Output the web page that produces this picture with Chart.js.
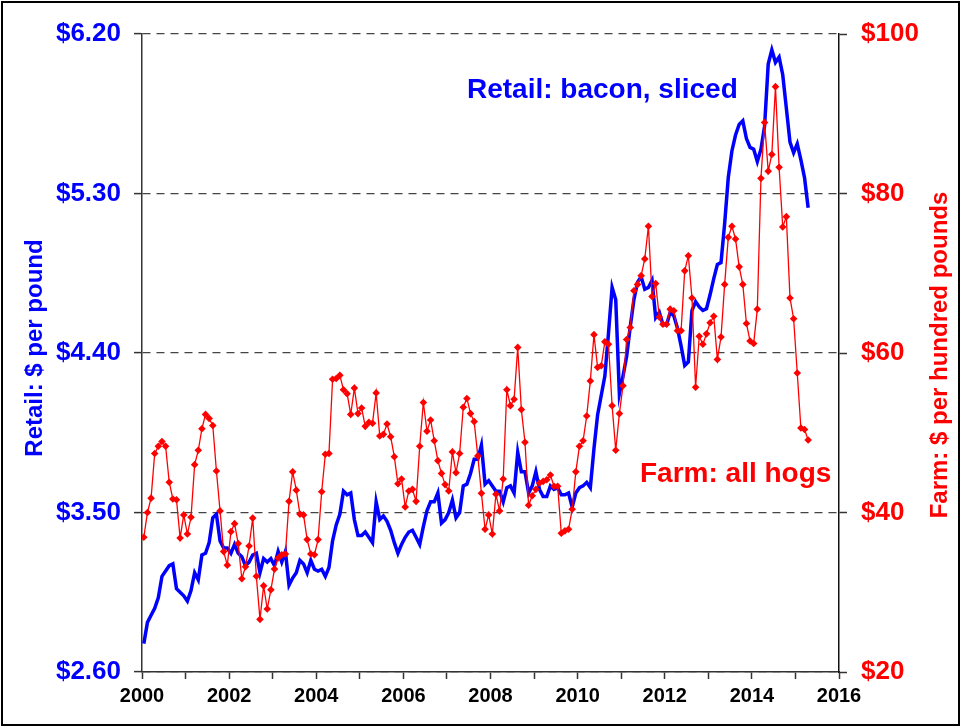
<!DOCTYPE html>
<html>
<head>
<meta charset="utf-8">
<script src="https://cdn.jsdelivr.net/npm/chart.js@4.4.1/dist/chart.umd.min.js"></script>
<style>
  html, body { margin: 0; padding: 0; background: #fff; }
  canvas { display: block; }
</style>
</head>
<body>
<canvas id="myChart" width="961" height="727"></canvas>
<script>
// monthly series, Jan 2000 .. Apr 2015
const startYear = 2000;

// Retail: bacon, sliced ($ per pound)
const retailBacon = [
  2.76, 2.88, 2.92, 2.96, 3.02, 3.14, 3.17, 3.20, 3.21, 3.07, 3.05, 3.03,
  3.00, 3.06, 3.16, 3.12, 3.26, 3.27, 3.33, 3.47, 3.49, 3.34, 3.30, 3.30,
  3.27, 3.32, 3.27, 3.25, 3.20, 3.22, 3.26, 3.27, 3.16, 3.24, 3.22, 3.24,
  3.20, 3.28, 3.22, 3.28, 3.09, 3.13, 3.16, 3.23, 3.21, 3.16, 3.23, 3.18,
  3.17, 3.18, 3.14, 3.19, 3.34, 3.43, 3.49, 3.62, 3.60, 3.61, 3.46, 3.37,
  3.37, 3.39, 3.36, 3.33, 3.56, 3.46, 3.48, 3.45, 3.40, 3.33, 3.27, 3.32,
  3.36, 3.39, 3.40, 3.36, 3.32, 3.42, 3.51, 3.56, 3.56, 3.61, 3.44, 3.46,
  3.50, 3.57, 3.47, 3.50, 3.65, 3.66, 3.72, 3.80, 3.80, 3.88, 3.66, 3.68,
  3.65, 3.62, 3.62, 3.56, 3.64, 3.65, 3.61, 3.84, 3.73, 3.73, 3.61, 3.65,
  3.73, 3.63, 3.59, 3.59, 3.65, 3.63, 3.64, 3.60, 3.60, 3.61, 3.53, 3.61,
  3.64, 3.65, 3.67, 3.64, 3.86, 4.05, 4.16, 4.27, 4.51, 4.77, 4.70, 4.17,
  4.27, 4.38, 4.55, 4.70, 4.80, 4.83, 4.76, 4.77, 4.81, 4.60, 4.63, 4.56,
  4.56, 4.63, 4.61, 4.54, 4.44, 4.33, 4.35, 4.64, 4.69, 4.66, 4.64, 4.65,
  4.73, 4.82, 4.90, 4.91, 5.13, 5.39, 5.54, 5.63, 5.69, 5.71, 5.61, 5.56,
  5.55, 5.48, 5.55, 5.68, 6.03, 6.11, 6.04, 6.07, 5.97, 5.78, 5.59, 5.53,
  5.58, 5.49, 5.39, 5.22
];

// Farm: all hogs ($ per hundred pounds)
const farmHogs = [
  36.9, 40.0, 41.8, 47.4, 48.3, 48.9, 48.3, 43.8, 41.7, 41.6, 36.8, 39.7,
  37.3, 39.4, 46.0, 47.8, 50.5, 52.3, 51.8, 50.9, 45.2, 40.2, 35.1, 33.4,
  37.6, 38.6, 36.1, 31.7, 33.2, 35.8, 39.3, 32.0, 26.6, 30.8, 27.9, 30.3,
  32.9, 34.3, 34.7, 34.8, 41.4, 45.1, 42.8, 39.8, 39.7, 36.6, 34.8, 34.7,
  36.6, 42.6, 47.3, 47.4, 56.7, 56.8, 57.2, 55.4, 54.9, 52.3, 55.6, 52.4,
  53.1, 50.8, 51.3, 51.2, 55.0, 49.6, 49.8, 51.1, 49.5, 47.0, 43.6, 44.2,
  40.7, 42.7, 42.9, 41.4, 48.3, 53.8, 50.2, 51.6, 49.0, 46.5, 44.9, 43.5,
  42.7, 47.6, 45.0, 47.4, 53.2, 54.3, 52.4, 51.4, 47.1, 42.4, 37.9, 39.7,
  37.3, 42.3, 40.2, 44.2, 55.4, 53.4, 54.2, 60.7, 52.9, 48.8, 40.9, 42.1,
  42.9, 43.7, 43.9, 44.1, 44.7, 43.3, 43.3, 37.4, 37.7, 37.9, 40.4, 45.1,
  48.3, 49.0, 52.1, 56.5, 62.3, 58.2, 58.4, 61.4, 61.1, 53.4, 47.8, 52.4,
  55.9, 61.7, 63.2, 67.8, 68.6, 69.7, 71.8, 75.9, 67.1, 68.7, 64.5, 63.6,
  63.6, 65.5, 65.3, 62.8, 62.8, 70.3, 72.2, 66.9, 55.7, 62.1, 61.1, 62.4,
  63.8, 64.6, 59.2, 62.0, 68.6, 74.5, 75.9, 74.3, 70.8, 68.6, 63.7, 61.5,
  61.2, 65.5, 81.9, 88.9, 82.8, 84.9, 93.4, 83.3, 75.8, 77.1, 66.9, 64.3,
  57.5, 50.6, 50.4, 49.1
];

const yearTicks = [2000, 2001, 2002, 2003, 2004, 2005, 2006, 2007, 2008,
                   2009, 2010, 2011, 2012, 2013, 2014, 2015, 2016];
const retailTicks = [2.60, 3.50, 4.40, 5.30, 6.20];
const farmTicks = [20, 40, 60, 80, 100];

const BLUE = '#0000ff';
const RED = '#ff0000';
const FONT = 'Arial, "Liberation Sans", sans-serif';

// each monthly value sits in the middle of its month
const toPoints = arr => arr.map((v, i) => ({ x: startYear + (i + 0.5) / 12, y: v }));

const fixedTicks = list => scale => { scale.ticks = list.map(v => ({ value: v })); };

const extras = {
    id: 'extras',
    afterDraw(chart) {
        const ctx = chart.ctx;
        ctx.save();
        ctx.font = 'bold 28px ' + FONT;
        ctx.textBaseline = 'alphabetic';
        ctx.fillStyle = BLUE;
        ctx.fillText('Retail: bacon, sliced', 467, 98);
        ctx.fillStyle = RED;
        ctx.fillText('Farm: all hogs', 640, 482);

        ctx.font = 'bold 24px ' + FONT;
        ctx.textAlign = 'center';
        ctx.textBaseline = 'middle';
        ctx.fillStyle = BLUE;
        ctx.translate(35, 348);
        ctx.rotate(-Math.PI / 2);
        ctx.fillText('Retail: $ per pound', 0, 0);
        ctx.restore();

        ctx.save();
        ctx.font = 'bold 24px ' + FONT;
        ctx.textAlign = 'center';
        ctx.textBaseline = 'middle';
        ctx.fillStyle = RED;
        ctx.translate(940, 355);
        ctx.rotate(-Math.PI / 2);
        ctx.fillText('Farm: $ per hundred pounds', 0, 0);
        ctx.restore();

        ctx.save();
        ctx.strokeStyle = '#000';
        ctx.lineWidth = 2;
        ctx.strokeRect(2, 2, 957, 723);
        ctx.restore();
    }
};

const ctx = document.getElementById('myChart').getContext('2d');
new Chart(ctx, {
    type: 'line',
    data: {
        datasets: [{
            label: 'Farm: all hogs',
            data: toPoints(farmHogs),
            yAxisID: 'y1',
            borderColor: RED,
            backgroundColor: RED,
            borderWidth: 1.3,
            pointStyle: 'rectRot',
            pointRadius: 3.8,
            pointBorderWidth: 0,
            tension: 0,
            order: 0
        }, {
            label: 'Retail: bacon, sliced',
            data: toPoints(retailBacon),
            yAxisID: 'y',
            borderColor: BLUE,
            borderWidth: 3.5,
            pointRadius: 0,
            tension: 0,
            order: 1
        }]
    },
    options: {
        responsive: false,
        animation: false,
        layout: { padding: { top: 34, left: 0, right: 0, bottom: 0 } },
        plugins: {
            legend: { display: false },
            tooltip: { enabled: false }
        },
        scales: {
            x: {
                type: 'linear',
                min: 2000,
                max: 2016,
                afterBuildTicks: fixedTicks(yearTicks),
                afterFit: s => { s.height = 55; },
                grid: { drawOnChartArea: false, drawTicks: true, tickLength: 7, tickColor: '#333', tickWidth: 1.5 },
                border: { display: true, color: '#333', width: 1.5 },
                ticks: {
                    autoSkip: false,
                    maxRotation: 0,
                    padding: 5,
                    color: '#000',
                    font: { family: FONT, size: 20, weight: 'bold' },
                    callback: v => (v % 2 === 0 ? String(v) : '')
                }
            },
            y: {
                position: 'left',
                min: 2.6,
                max: 6.2,
                afterBuildTicks: fixedTicks(retailTicks),
                afterFit: s => { s.width = 142; },
                grid: { drawOnChartArea: true, color: '#444', lineWidth: 1.2, tickLength: 8, tickColor: '#333', tickWidth: 1.5 },
                border: { display: true, color: '#333', width: 1.5, dash: [8, 6] },
                ticks: {
                    padding: 13,
                    color: BLUE,
                    font: { family: FONT, size: 26, weight: 'bold' },
                    callback: v => '$' + Number(v).toFixed(2)
                }
            },
            y1: {
                position: 'right',
                min: 20,
                max: 100,
                afterBuildTicks: fixedTicks(farmTicks),
                afterFit: s => { s.width = 122; },
                grid: { drawOnChartArea: false, tickLength: 8, tickColor: '#333', tickWidth: 1.5 },
                border: { display: true, color: '#111', width: 1.5 },
                ticks: {
                    padding: 14,
                    color: RED,
                    font: { family: FONT, size: 26, weight: 'bold' },
                    callback: v => '$' + v
                }
            }
        }
    },
    plugins: [extras]
});
</script>
</body>
</html>
